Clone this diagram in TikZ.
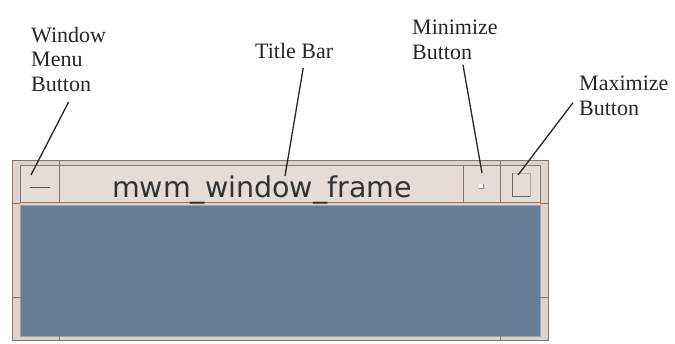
\documentclass[tikz,border=0pt]{standalone}
\usepackage{fontspec}
\setmainfont{Liberation Serif}
\newfontfamily\mwmfont{DejaVu Sans}
\usetikzlibrary{calc}
\definecolor{framebeige}{HTML}{DCD2CE}
\definecolor{barbeige}{HTML}{E5DBD7}
\definecolor{edgegray}{HTML}{85766F}
\definecolor{slateblue}{HTML}{657E95}
\tikzstyle{callout}=[font=\fontsize{22}{24.5}\selectfont, align=left, anchor=north west, inner sep=0pt, text=black!85]
\tikzstyle{leader}=[line width=1.3pt, black!85]
\tikzstyle{btn}=[draw=edgegray, fill=barbeige, minimum height=37pt, inner sep=0pt]

\begin{document}
\begin{tikzpicture}[x=1pt,y=-1pt]
	\useasboundingbox (0,0) rectangle (675,343);
	% frame and client area
	\draw[edgegray, fill=framebeige] (12,160) rectangle (548,340);
	\fill[slateblue] (20,205) rectangle (540,336);
	\draw[edgegray!70] (20,205) rectangle (540,336);
	\foreach \ty in {203,297} {
		\draw[edgegray] (12,\ty) -- (20,\ty);
		\draw[edgegray] (540,\ty) -- (548,\ty);
	}
	\foreach \tx in {59,500} {
		\draw[edgegray] (\tx,160) -- (\tx,165);
		\draw[edgegray] (\tx,336) -- (\tx,340);
	}
	% title bar and buttons
	\node[btn, minimum width=404pt] (titlebar) at (261,183.5) {};
	\node[btn, minimum width=39pt] (menubtn) at (39.5,183.5) {};
	\node[btn, minimum width=37pt] (minbtn) at (481.5,183.5) {};
	\node[btn, minimum width=40pt] (maxbtn) at (520,183.5) {};
	\node[font=\mwmfont\fontsize{28.5}{30}\selectfont, anchor=base, inner sep=0pt, text=black!80] (title) at (262,197) {mwm\_window\_frame};
	\draw[black!65, thick] (30,187) -- (50,187);
	\fill[white] (479,184) rectangle (483,188);
	\draw[black!45] (479,188) -- (483,188) -- (483,184);
	\draw[edgegray!60] (512,173) rectangle (530,196);
	\draw[black!60, thick] (512,173) -- (512,196) -- (530,196);
	% labels
	\node[callout] (menulabel) at (31,27) {Window\\Menu\\Button};
	\node[callout] (titlelabel) at (255,43) {Title Bar};
	\node[callout] (minlabel) at (412,20) {Minimize\\Button};
	\node[callout] (maxlabel) at (579,76) {Maximize\\Button};
	\coordinate (menutip) at (31,175);
	\coordinate (titletip) at (285,176);
	\coordinate (mintip) at (482,173);
	\coordinate (maxtip) at (518,175);
	\draw[leader] ($(menulabel.south)+(0,10)$) -- (menutip);
	\draw[leader] ($(titlelabel.south)+(9,9)$) -- (titletip);
	\draw[leader] ($(minlabel.south)+(8,5)$) -- (mintip);
	\draw[leader] ($(maxlabel.south west)+(-6,-13)$) -- (maxtip);
\end{tikzpicture}
\end{document}
